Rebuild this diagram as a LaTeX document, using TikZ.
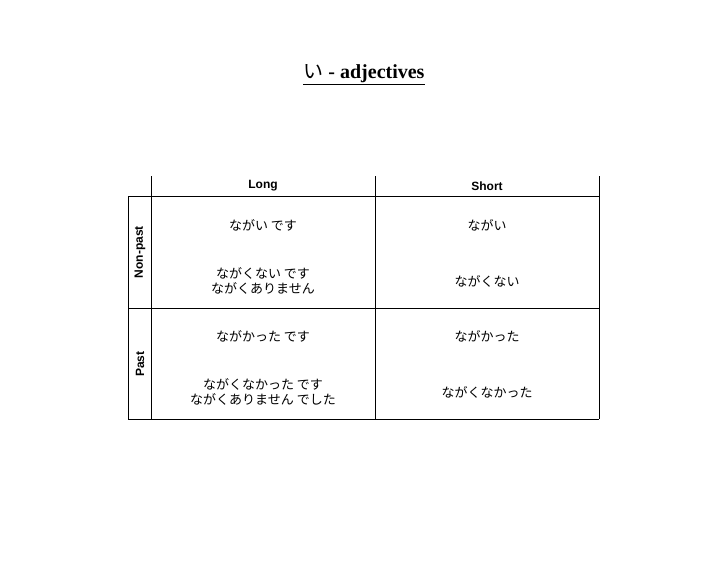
\documentclass[tikz,border=0pt]{standalone}
\usepackage{fontspec}
\setmainfont{Liberation Sans}
\newfontfamily\cjk{Noto Sans CJK JP}
\newfontfamily\ttl{Liberation Serif}
\begin{document}
\begin{tikzpicture}[x=1pt,y=-1pt,
  grid/.style={draw=black,line width=0.8pt},
  jp/.style={font=\cjk\fontsize{13}{14.5}\selectfont,align=center},
  hd/.style={font=\bfseries\fontsize{12}{14}\selectfont}]
\useasboundingbox (0,0) rectangle (728,563);
\draw[grid] (151,176) -- (151,419);
\draw[grid] (375,176) -- (375,419);
\draw[grid] (599,176) -- (599,419);
\draw[grid] (128,196) -- (128,419);
\draw[grid] (151,196) -- (599,196);
\draw[grid] (128,196) -- (599,196);
\draw[grid] (128,308) -- (599,308);
\draw[grid] (128,419) -- (599,419);
\node[font=\ttl\bfseries\fontsize{20}{22}\selectfont] (title) at (364,75) {\underline{{\cjk\mdseries い}\ -\ adjectives}};
\node[hd] (long) at (263,186) {Long};
\node[hd] (short) at (487,186) {Short};
\node[hd,rotate=90] (np) at (140,252) {Non-past};
\node[hd,rotate=90] (past) at (140,364) {Past};
\node[jp] (a1) at (263,225) {ながい です};
\node[jp] (b1) at (487,225) {ながい};
\node[jp] (a2) at (263,281) {ながくない です\\ながくありません};
\node[jp] (b2) at (487,281) {ながくない};
\node[jp] (a3) at (263,336) {ながかった です};
\node[jp] (b3) at (487,336) {ながかった};
\node[jp] (a4) at (263,392) {ながくなかった です\\ながくありません でした};
\node[jp] (b4) at (487,392) {ながくなかった};
\end{tikzpicture}
\end{document}
